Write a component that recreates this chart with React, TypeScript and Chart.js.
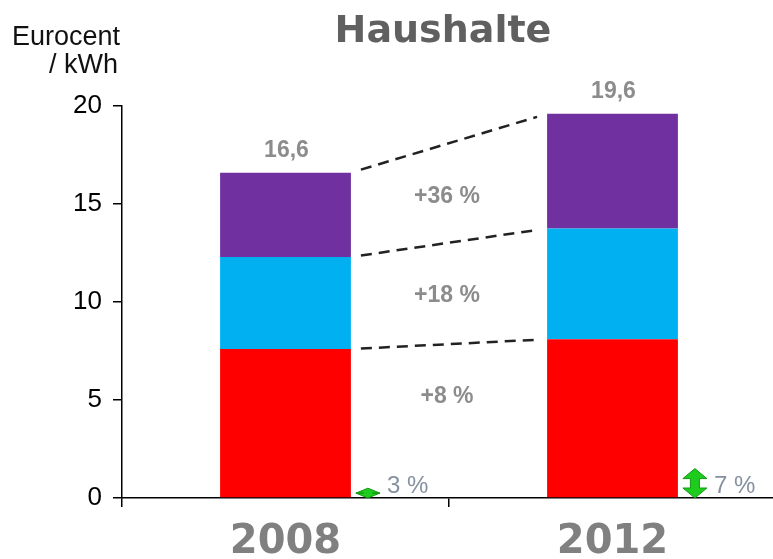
import { useEffect, useRef } from "react";
import { Chart, registerables } from "chart.js";

Chart.register(...registerables);

const years = ["2008", "2012"];
const partRed = [7.6, 8.1];
const partBlue = [4.7, 5.65];
const partPurple = [4.3, 5.85];
const growthLabels = ["+8 %", "+18 %", "+36 %"];
const arrowValues = [0.5, 1.5];
const arrowLabels = ["3 %", "7 %"];
const yMin = 0;
const yMax = 20;
const yStep = 5;

const fmt = (v: number) => v.toFixed(1).replace(".", ",");

const overlayPlugin = {
  id: "overlay",
  afterDatasetsDraw(chart: any) {
    const ctx = chart.ctx as CanvasRenderingContext2D;
    const ys = chart.scales.y;
    const nSeg = chart.data.datasets.length;
    const b0 = chart.getDatasetMeta(0).data[0];
    const b1 = chart.getDatasetMeta(0).data[1];
    const x0 = b0.x + b0.width / 2;
    const x1 = b1.x - b1.width / 2;
    const series = [partRed, partBlue, partPurple];
    const cum = (j: number, k: number) => {
      let s = 0;
      for (let i = 0; i <= k; i++) s += series[i][j];
      return s;
    };
    const inset = 10;
    ctx.save();
    for (let k = 0; k < nSeg; k++) {
      const y0 = ys.getPixelForValue(cum(0, k));
      const y1 = ys.getPixelForValue(cum(1, k));
      const f = inset / (x1 - x0);
      ctx.strokeStyle = "#222222";
      ctx.lineWidth = 2.5;
      ctx.setLineDash([11, 7]);
      ctx.beginPath();
      ctx.moveTo(x0 + inset, y0 + (y1 - y0) * f);
      ctx.lineTo(x1 - inset, y1 - (y1 - y0) * f);
      ctx.stroke();
      ctx.setLineDash([]);
      ctx.fillStyle = "#8c8c8c";
      ctx.font = "bold 23px 'Liberation Sans', Arial, sans-serif";
      ctx.textAlign = "center";
      ctx.textBaseline = "middle";
      const midY = (y0 + y1) / 2;
      ctx.fillText(growthLabels[k], (x0 + x1) / 2 - 2, midY + 53);
    }
    ctx.setLineDash([]);
    // totals
    ctx.fillStyle = "#8c8c8c";
    ctx.font = "bold 23px 'Liberation Sans', Arial, sans-serif";
    ctx.textAlign = "center";
    ctx.textBaseline = "middle";
    for (let j = 0; j < years.length; j++) {
      const total = cum(j, nSeg - 1);
      const bar = chart.getDatasetMeta(0).data[j];
      ctx.fillText(fmt(total), bar.x + 1, ys.getPixelForValue(total) - 22);
    }
    // arrows
    for (let j = 0; j < years.length; j++) {
      const bar = chart.getDatasetMeta(0).data[j];
      const cx = bar.x + bar.width / 2 + 17;
      const yb = ys.getPixelForValue(0);
      const yt = ys.getPixelForValue(arrowValues[j]);
      const h = yb - yt;
      const headH = Math.min(10, h / 2);
      const headW = 12;
      const shaftW = 4.5;
      ctx.beginPath();
      ctx.moveTo(cx, yt);
      ctx.lineTo(cx + headW, yt + headH);
      ctx.lineTo(cx + shaftW, yt + headH);
      ctx.lineTo(cx + shaftW, yb - headH);
      ctx.lineTo(cx + headW, yb - headH);
      ctx.lineTo(cx, yb);
      ctx.lineTo(cx - headW, yb - headH);
      ctx.lineTo(cx - shaftW, yb - headH);
      ctx.lineTo(cx - shaftW, yt + headH);
      ctx.lineTo(cx - headW, yt + headH);
      ctx.closePath();
      ctx.fillStyle = "#1ecc1e";
      ctx.fill();
      ctx.strokeStyle = "#139a13";
      ctx.lineWidth = 1;
      ctx.stroke();
      ctx.fillStyle = "#8590a0";
      ctx.font = "24px 'Liberation Sans', Arial, sans-serif";
      ctx.textAlign = "left";
      ctx.textBaseline = "alphabetic";
      ctx.fillText(arrowLabels[j], cx + 19, yb - 5);
    }
    ctx.restore();
  },
  afterDraw(chart: any) {
    const ctx = chart.ctx as CanvasRenderingContext2D;
    ctx.save();
    ctx.fillStyle = "#606060";
    ctx.font = "bold 38px 'DejaVu Sans', Verdana, sans-serif";
    ctx.textAlign = "center";
    ctx.textBaseline = "middle";
    ctx.fillText("Haushalte", 443, 32);
    ctx.fillStyle = "#111111";
    ctx.font = "27px 'Liberation Sans', Arial, sans-serif";
    ctx.textAlign = "right";
    ctx.textBaseline = "alphabetic";
    ctx.fillText("Eurocent", 120, 45);
    ctx.fillText("/ kWh", 118, 73);
    ctx.restore();
  },
};

export default function App() {
  const ref = useRef<HTMLCanvasElement | null>(null);
  useEffect(() => {
    if (!ref.current) return;
    const chart = new Chart(ref.current, {
      type: "bar",
      data: {
        labels: years,
        datasets: [
          { label: "red", data: partRed, backgroundColor: "#ff0000" },
          { label: "blue", data: partBlue, backgroundColor: "#00b0f0" },
          { label: "purple", data: partPurple, backgroundColor: "#7030a0" },
        ],
      },
      options: {
        responsive: false,
        animation: false,
        devicePixelRatio: 1,
        layout: { padding: { top: 106, right: 4, bottom: 0, left: 0 } },
        datasets: { bar: { barPercentage: 0.4, categoryPercentage: 1 } },
        plugins: {
          legend: { display: false },
          tooltip: { enabled: false },
          title: { display: false },
        },
        scales: {
          x: {
            stacked: true,
            offset: true,
            grid: {
              display: true,
              drawOnChartArea: false,
              drawTicks: true,
              tickLength: 9,
              color: "#000000",
              lineWidth: 1.5,
              offset: true,
            },
            border: { display: true, color: "#000000", width: 1.5 },
            ticks: {
              color: "#808080",
              font: { family: "'DejaVu Sans', Verdana, sans-serif", size: 40, weight: "bold" },
              padding: 12,
            },
            afterFit(scale: any) {
              scale.height = 61;
            },
          },
          y: {
            stacked: true,
            min: yMin,
            max: yMax,
            grid: {
              display: true,
              drawOnChartArea: false,
              drawTicks: true,
              tickLength: 9,
              color: "#000000",
              lineWidth: 1.5,
            },
            border: { display: true, color: "#000000", width: 1.5 },
            ticks: {
              stepSize: yStep,
              color: "#000000",
              font: { family: "'Liberation Sans', Arial, sans-serif", size: 26 },
              padding: 11,
            },
            afterFit(scale: any) {
              scale.width = 122;
            },
          },
        },
      },
      plugins: [overlayPlugin],
    });
    return () => chart.destroy();
  }, []);
  return (
    <div style={{ position: "fixed", left: 0, top: 0, width: 773, height: 559, overflow: "hidden", background: "#fff" }}>
      <canvas ref={ref} width={780} height={559} style={{ display: "block", width: 780, height: 559 }} />
    </div>
  );
}
